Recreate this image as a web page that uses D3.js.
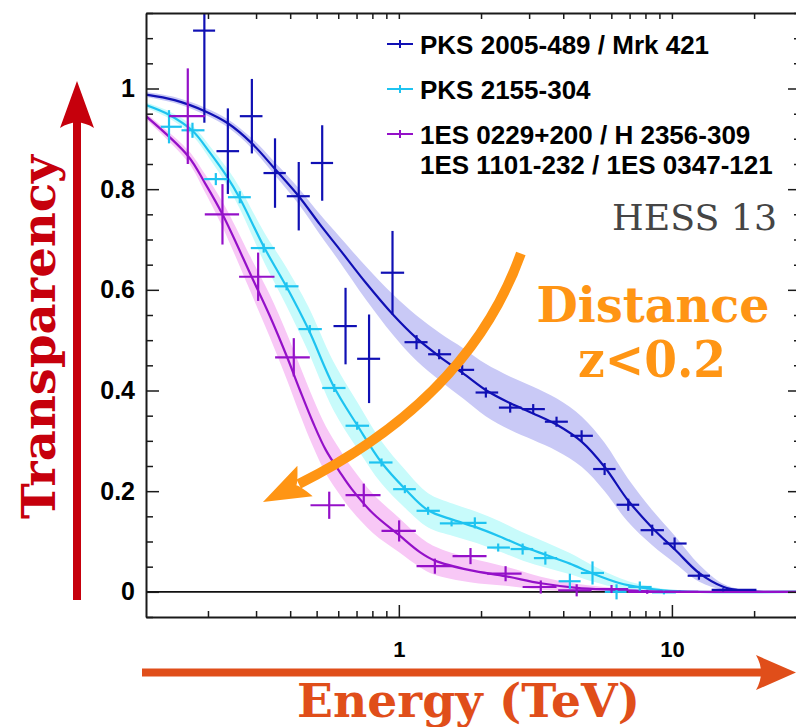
<!DOCTYPE html>
<html>
<head>
<meta charset="utf-8">
<script src="https://cdn.jsdelivr.net/npm/d3@7"></script>
<style>
  html, body { margin: 0; padding: 0; background: #fff; }
  svg { display: block; }
</style>
</head>
<body>
<svg id="chart" width="796" height="727"></svg>
<script>
// ---------------- Data ----------------
// PKS 2005-489 / Mrk 421 : energy (TeV), transparency, bin edges, error
const mrkEnergy = [0.194, 0.2365, 0.2896, 0.352, 0.430, 0.524, 0.638, 0.778, 0.948, 1.161, 1.405, 1.706, 2.083, 2.557, 3.105, 3.78, 4.67, 5.67, 6.92, 8.47, 10.23, 12.56, 15.4];
const mrkTrans  = [1.115, 0.8755, 0.945, 0.832, 0.786, 0.852, 0.528, 0.463, 0.634, 0.496, 0.472, 0.441, 0.396, 0.366, 0.363, 0.338, 0.310, 0.244, 0.173, 0.1225, 0.096, 0.032, 0.004];
const mrkLow    = [0.1764, 0.2149, 0.2616, 0.3194, 0.3888, 0.476, 0.5764, 0.7035, 0.859, 1.049, 1.280, 1.551, 1.910, 2.325, 2.822, 3.426, 4.249, 5.148, 6.27, 7.68, 9.30, 11.42, 13.98];
const mrkHigh   = [0.2124, 0.260, 0.3167, 0.3855, 0.472, 0.5744, 0.7018, 0.854, 1.0457, 1.274, 1.554, 1.887, 2.311, 2.815, 3.426, 4.159, 5.135, 6.219, 7.59, 9.35, 11.32, 13.78, 20.4];
const mrkErr    = [0.183, 0.085, 0.074, 0.069, 0.068, 0.075, 0.076, 0.088, 0.083, 0.014, 0.010, 0.010, 0.010, 0.010, 0.010, 0.010, 0.011, 0.012, 0.012, 0.011, 0.012, 0.008, 0.003];

// PKS 2155-304
const pksEnergy = [0.144, 0.1755, 0.2137, 0.2616, 0.320, 0.388, 0.472, 0.580, 0.7035, 0.864, 1.052, 1.28, 1.56, 1.898, 2.311, 2.84, 3.44, 4.23, 5.12, 6.27, 7.63, 9.35];
const pksTrans  = [0.924, 0.917, 0.820, 0.784, 0.683, 0.607, 0.522, 0.405, 0.330, 0.257, 0.204, 0.161, 0.136, 0.137, 0.088, 0.085, 0.067, 0.021, 0.0375, 0.0, 0.0096, -0.001];
const pksLow    = [0.1343, 0.160, 0.1936, 0.2366, 0.2870, 0.3514, 0.4292, 0.524, 0.638, 0.778, 0.953, 1.161, 1.413, 1.72, 2.106, 2.566, 3.123, 3.846, 4.64, 5.68, 6.92, 8.45];
const pksHigh   = [0.1604, 0.1942, 0.2359, 0.2870, 0.3514, 0.4292, 0.5224, 0.638, 0.778, 0.948, 1.154, 1.413, 1.711, 2.095, 2.551, 3.105, 3.80, 4.63, 5.64, 6.82, 8.43, 10.34];
const pksErr    = [0.033, 0.015, 0.012, 0.012, 0.009, 0.008, 0.008, 0.008, 0.008, 0.008, 0.008, 0.008, 0.006, 0.011, 0.008, 0.011, 0.013, 0.015, 0.023, 0.015, 0.011, 0.004];

// 1ES 0229+200 / H 2356-309 / 1ES 1101-232 / 1ES 0347-121
const esEnergy = [0.1687, 0.226, 0.3053, 0.4124, 0.556, 0.744, 1.0025, 1.355, 1.83, 2.46, 3.31, 4.48, 6.01, 8.12, 10.7];
const esTrans  = [0.945, 0.750, 0.626, 0.466, 0.172, 0.192, 0.121, 0.051, 0.071, 0.036, 0.0096, 0.003, 0.0056, 0.0, 0.0];
const esLow    = [0.1441, 0.1947, 0.260, 0.3523, 0.4748, 0.638, 0.864, 1.161, 1.573, 2.106, 2.84, 3.833, 5.105, 6.92, 9.29];
const esHigh   = [0.1952, 0.260, 0.3505, 0.472, 0.634, 0.857, 1.154, 1.56, 2.095, 2.815, 3.78, 5.08, 6.92, 9.29, 12.49];
const esErr    = [0.095, 0.060, 0.048, 0.038, 0.027, 0.023, 0.021, 0.015, 0.016, 0.015, 0.013, 0.012, 0.008, 0.004, 0.002];

// Model curves: energy, transparency, half-width of the uncertainty band
const mrkCurveE = [0.1186, 0.151, 0.195, 0.2365, 0.2896, 0.352, 0.430, 0.514, 0.608, 0.757, 0.951, 1.161, 1.413, 1.72, 2.08, 2.55, 3.09, 3.79, 4.68, 5.67, 6.9, 8.45, 10.3, 12.6, 15.4, 18.2, 22.8, 29.7];
const mrkCurveT = [0.988, 0.977, 0.955, 0.931, 0.891, 0.840, 0.786, 0.730, 0.680, 0.614, 0.551, 0.504, 0.467, 0.434, 0.401, 0.375, 0.355, 0.332, 0.298, 0.248, 0.182, 0.128, 0.083, 0.037, 0.010, 0.002, 0, 0];
const mrkCurveB = [0.005, 0.006, 0.007, 0.008, 0.010, 0.013, 0.016, 0.020, 0.025, 0.033, 0.040, 0.045, 0.047, 0.050, 0.052, 0.053, 0.053, 0.052, 0.050, 0.048, 0.043, 0.035, 0.027, 0.017, 0.006, 0.002, 0, 0];

const pksCurveE = [0.1186, 0.145, 0.1755, 0.203, 0.236, 0.2616, 0.323, 0.387, 0.466, 0.575, 0.706, 0.864, 1.052, 1.28, 1.58, 1.925, 2.34, 2.85, 3.47, 4.23, 5.15, 6.46, 7.63, 9.27, 12.6, 29.7];
const pksCurveT = [0.967, 0.947, 0.916, 0.873, 0.823, 0.782, 0.682, 0.607, 0.522, 0.410, 0.330, 0.257, 0.205, 0.162, 0.143, 0.128, 0.110, 0.090, 0.073, 0.056, 0.036, 0.017, 0.009, 0.003, 0, 0];
const pksCurveB = [0.005, 0.007, 0.010, 0.013, 0.017, 0.021, 0.030, 0.038, 0.045, 0.048, 0.046, 0.042, 0.038, 0.034, 0.032, 0.031, 0.030, 0.028, 0.025, 0.021, 0.016, 0.010, 0.006, 0.003, 0, 0];

const esCurveE = [0.1186, 0.169, 0.195, 0.226, 0.289, 0.337, 0.390, 0.434, 0.4854, 0.540, 0.608, 0.6727, 0.803, 1.0025, 1.194, 1.355, 1.82, 2.46, 3.31, 4.48, 6.08, 8.3, 12.6, 29.7];
const esCurveT = [0.945, 0.866, 0.812, 0.750, 0.626, 0.548, 0.466, 0.401, 0.336, 0.282, 0.238, 0.204, 0.156, 0.1125, 0.079, 0.062, 0.043, 0.031, 0.017, 0.008, 0.004, 0.001, 0, 0];
const esCurveB = [0.006, 0.012, 0.018, 0.025, 0.035, 0.042, 0.046, 0.048, 0.048, 0.047, 0.045, 0.043, 0.039, 0.034, 0.030, 0.028, 0.024, 0.019, 0.013, 0.008, 0.004, 0.001, 0, 0];

// Axis ticks and labels
const xMajorTicks = [1, 10];
const xMinorTicks = [0.2, 0.3, 0.4, 0.5, 0.6, 0.7, 0.8, 0.9, 2, 3, 4, 5, 6, 7, 8, 9, 20];
const xTickLabels = ["1", "10"];
const yMajorTicks = [0, 0.2, 0.4, 0.6, 0.8, 1];
const yMinorTicks = [-0.05, 0.05, 0.1, 0.15, 0.25, 0.3, 0.35, 0.45, 0.5, 0.55, 0.65, 0.7, 0.75, 0.85, 0.9, 0.95, 1.05, 1.1, 1.15];
const yTickLabels = ["0", "0.2", "0.4", "0.6", "0.8", "1"];

const seriesNames = ["PKS 2005-489 / Mrk 421", "PKS 2155-304", "1ES 0229+200 / H 2356-309"];
const seriesExtraLine = ["", "", "1ES 1101-232 / 1ES 0347-121"];

// Path of the "distance" arrow, in data coordinates: start, control, end of shaft
const distanceArrowE = [2.798, 1.805, 0.430];
const distanceArrowT = [0.6723, 0.3835, 0.2141];

// ---------------- Layout ----------------
const svg = d3.select("#chart");
const plot = { left: 146, right: 801, top: 13, bottom: 617 };

const x = d3.scaleLog().domain([0.1186, 29.7]).range([plot.left, plot.right]);
const y = d3.scaleLinear().domain([-0.05, 1.15]).range([plot.bottom, plot.top]);

const colors = {
  mrk: "#1010b4", mrkBand: "#c9c9f6",
  pks: "#1ec3f0", pksBand: "#c8fbfb",
  es:  "#9410c8", esBand:  "#f8c8f6"
};

const zip3 = (E, T, B) => E.map((e, i) => ({ e, t: T[i], b: B[i] }));
const series = [
  { key: "mrk", color: colors.mrk, band: colors.mrkBand,
    curve: zip3(mrkCurveE, mrkCurveT, mrkCurveB),
    pts: mrkEnergy.map((e, i) => ({ e, t: mrkTrans[i], lo: mrkLow[i], hi: mrkHigh[i], err: mrkErr[i] })) },
  { key: "pks", color: colors.pks, band: colors.pksBand,
    curve: zip3(pksCurveE, pksCurveT, pksCurveB),
    pts: pksEnergy.map((e, i) => ({ e, t: pksTrans[i], lo: pksLow[i], hi: pksHigh[i], err: pksErr[i] })) },
  { key: "es", color: colors.es, band: colors.esBand,
    curve: zip3(esCurveE, esCurveT, esCurveB),
    pts: esEnergy.map((e, i) => ({ e, t: esTrans[i], lo: esLow[i], hi: esHigh[i], err: esErr[i] })) }
];

svg.append("rect").attr("width", 796).attr("height", 727).attr("fill", "#fff");

svg.append("defs").append("clipPath").attr("id", "plotClip")
  .append("rect")
  .attr("x", plot.left).attr("y", plot.top)
  .attr("width", plot.right - plot.left).attr("height", plot.bottom - plot.top);

const plotArea = svg.append("g").attr("clip-path", "url(#plotClip)");

// uncertainty bands and model curves (smooth interpolation through the samples)
const smooth = d3.curveCatmullRom.alpha(0.5);
const band = d3.area()
  .x(d => x(d.e))
  .y0(d => y(Math.max(0, d.t - d.b)))
  .y1(d => y(d.t + d.b))
  .curve(smooth);
const model = d3.line()
  .x(d => x(d.e))
  .y(d => y(d.t))
  .curve(smooth);

series.forEach(s => {
  plotArea.append("path").attr("d", band(s.curve)).attr("fill", s.band).attr("stroke", "none");
});

// zero line
plotArea.append("line")
  .attr("x1", plot.left).attr("x2", plot.right)
  .attr("y1", y(0)).attr("y2", y(0))
  .attr("stroke", "#111").attr("stroke-width", 1.6);

series.forEach(s => {
  plotArea.append("path").attr("d", model(s.curve))
    .attr("fill", "none").attr("stroke", s.color).attr("stroke-width", 2.2);
});

// data points with error bars
series.forEach(s => {
  const g = plotArea.append("g").attr("stroke", s.color).attr("stroke-width", 2.2);
  g.selectAll("line.h").data(s.pts).join("line").attr("class", "h")
    .attr("x1", d => x(d.lo)).attr("x2", d => x(d.hi))
    .attr("y1", d => y(d.t)).attr("y2", d => y(d.t));
  g.selectAll("line.v").data(s.pts).join("line").attr("class", "v")
    .attr("x1", d => x(d.e)).attr("x2", d => x(d.e))
    .attr("y1", d => y(d.t - d.err)).attr("y2", d => y(d.t + d.err));
});

// ---------------- Axes ----------------
const axisColor = "#1a1a1a";
function styleAxis(g, showDomain) {
  g.selectAll("line").attr("stroke", axisColor).attr("stroke-width", 1.5);
  g.select("path.domain").attr("stroke", showDomain ? axisColor : "none").attr("stroke-width", 2);
  g.selectAll("text")
    .attr("fill", "#000")
    .style("font-family", "'Liberation Sans', Arial, Helvetica, sans-serif")
    .style("font-weight", "bold");
}
const fmtY = d => yTickLabels[yMajorTicks.indexOf(d)];
const fmtX = d => xTickLabels[xMajorTicks.indexOf(d)];

// left
svg.append("g").attr("transform", `translate(${plot.left},0)`)
  .call(d3.axisLeft(y).tickValues(yMajorTicks).tickSize(-13).tickSizeOuter(0).tickPadding(11).tickFormat(fmtY))
  .call(g => styleAxis(g, true))
  .call(g => g.selectAll("text").style("font-size", "25px"));
svg.append("g").attr("transform", `translate(${plot.left},0)`)
  .call(d3.axisLeft(y).tickValues(yMinorTicks).tickSize(-7).tickSizeOuter(0).tickFormat(""))
  .call(g => styleAxis(g, false));
// right
svg.append("g").attr("transform", `translate(${plot.right},0)`)
  .call(d3.axisRight(y).tickValues(yMajorTicks).tickSize(-13).tickSizeOuter(0).tickFormat(""))
  .call(g => styleAxis(g, true));
svg.append("g").attr("transform", `translate(${plot.right},0)`)
  .call(d3.axisRight(y).tickValues(yMinorTicks).tickSize(-7).tickSizeOuter(0).tickFormat(""))
  .call(g => styleAxis(g, false));
// bottom
svg.append("g").attr("transform", `translate(0,${plot.bottom})`)
  .call(d3.axisBottom(x).tickValues(xMajorTicks).tickSize(-12).tickSizeOuter(0).tickPadding(24).tickFormat(fmtX))
  .call(g => styleAxis(g, true))
  .call(g => g.selectAll("text").style("font-size", "22px"));
svg.append("g").attr("transform", `translate(0,${plot.bottom})`)
  .call(d3.axisBottom(x).tickValues(xMinorTicks).tickSize(-6).tickSizeOuter(0).tickFormat(""))
  .call(g => styleAxis(g, false));
// top
svg.append("g").attr("transform", `translate(0,${plot.top})`)
  .call(d3.axisTop(x).tickValues(xMajorTicks.concat(xMinorTicks)).tickSize(-6).tickSizeOuter(0).tickFormat(""))
  .call(g => styleAxis(g, true));

// ---------------- Legend ----------------
const legend = svg.append("g")
  .style("font-family", "'Liberation Sans', Arial, Helvetica, sans-serif")
  .style("font-weight", "bold").style("font-size", "26px");
const legendRows = [44, 89, 134];
series.forEach((s, i) => {
  const cy = legendRows[i];
  legend.append("line").attr("x1", 387).attr("x2", 413).attr("y1", cy).attr("y2", cy)
    .attr("stroke", s.color).attr("stroke-width", 2);
  legend.append("line").attr("x1", 400).attr("x2", 400).attr("y1", cy - 4).attr("y2", cy + 4)
    .attr("stroke", s.color).attr("stroke-width", 2);
  legend.append("text").attr("x", 420).attr("y", cy + 9.5).attr("fill", "#000").text(seriesNames[i]);
  if (seriesExtraLine[i]) {
    legend.append("text").attr("x", 420).attr("y", cy + 39.5).attr("fill", "#000").text(seriesExtraLine[i]);
  }
});

svg.append("text").attr("x", 612).attr("y", 230)
  .attr("textLength", 165).attr("lengthAdjust", "spacingAndGlyphs")
  .style("font-family", "'DejaVu Serif', 'Liberation Serif', serif")
  .style("font-size", "36px").attr("fill", "#454545").text("HESS 13");

// ---------------- Distance arrow ----------------
const orange = "#ff9514";
const p0 = [x(distanceArrowE[0]), y(distanceArrowT[0])];
const p1 = [x(distanceArrowE[1]), y(distanceArrowT[1])];
const p2 = [x(distanceArrowE[2]), y(distanceArrowT[2])];
const shaft = d3.path();
shaft.moveTo(p0[0], p0[1]);
shaft.quadraticCurveTo(p1[0], p1[1], p2[0], p2[1]);
svg.append("path").attr("d", shaft.toString())
  .attr("fill", "none").attr("stroke", orange).attr("stroke-width", 10);
{
  const dx = p2[0] - p1[0], dy = p2[1] - p1[1];
  const len = Math.hypot(dx, dy);
  const ux = dx / len, uy = dy / len, px = -uy, py = ux;
  const tip = [p2[0] + ux * 40, p2[1] + uy * 40];
  const base = [tip[0] - ux * 47, tip[1] - uy * 47];
  const c1 = [base[0] + px * 17, base[1] + py * 17];
  const c2 = [base[0] - px * 17, base[1] - py * 17];
  const notch = [tip[0] - ux * 37, tip[1] - uy * 37];
  svg.append("path")
    .attr("d", `M${tip}L${c1}Q${notch[0] - ux * 2},${notch[1] - uy * 2} ${notch}Q${notch[0] - ux * 2},${notch[1] - uy * 2} ${c2}Z`)
    .attr("fill", orange);
}

const serifBold = "'DejaVu Serif', 'Liberation Serif', serif";
svg.append("text").attr("x", 653).attr("y", 322).attr("text-anchor", "middle")
  .attr("textLength", 233).attr("lengthAdjust", "spacingAndGlyphs")
  .style("font-family", serifBold).style("font-weight", "bold").style("font-size", "48px")
  .attr("fill", orange).text("Distance");
svg.append("text").attr("x", 652).attr("y", 377).attr("text-anchor", "middle")
  .attr("textLength", 148).attr("lengthAdjust", "spacingAndGlyphs")
  .style("font-family", serifBold).style("font-weight", "bold").style("font-size", "50px")
  .attr("fill", orange).text("z<0.2");

// ---------------- Axis titles with arrows ----------------
const red = "#c6000c";
svg.append("rect").attr("x", 73).attr("y", 118).attr("width", 8).attr("height", 482).attr("fill", red);
svg.append("path").attr("d", "M77,81 L94,128 Q77,117 60,128 Z").attr("fill", red);
svg.append("text").attr("transform", "translate(55,337) rotate(-90)")
  .attr("text-anchor", "middle").attr("textLength", 364).attr("lengthAdjust", "spacingAndGlyphs")
  .style("font-family", serifBold).style("font-weight", "bold").style("font-size", "46px")
  .attr("fill", red).text("Transparency");

const orangeRed = "#e04e1a";
svg.append("rect").attr("x", 142).attr("y", 668.5).attr("width", 620).attr("height", 8).attr("fill", orangeRed);
svg.append("path").attr("d", "M796,672.5 L756,655 Q766,672.5 756,690 Z").attr("fill", orangeRed);
svg.append("text").attr("x", 468.5).attr("y", 717).attr("text-anchor", "middle")
  .attr("textLength", 343).attr("lengthAdjust", "spacingAndGlyphs")
  .style("font-family", serifBold).style("font-weight", "bold").style("font-size", "46px")
  .attr("fill", orangeRed).text("Energy (TeV)");
</script>
</body>
</html>
